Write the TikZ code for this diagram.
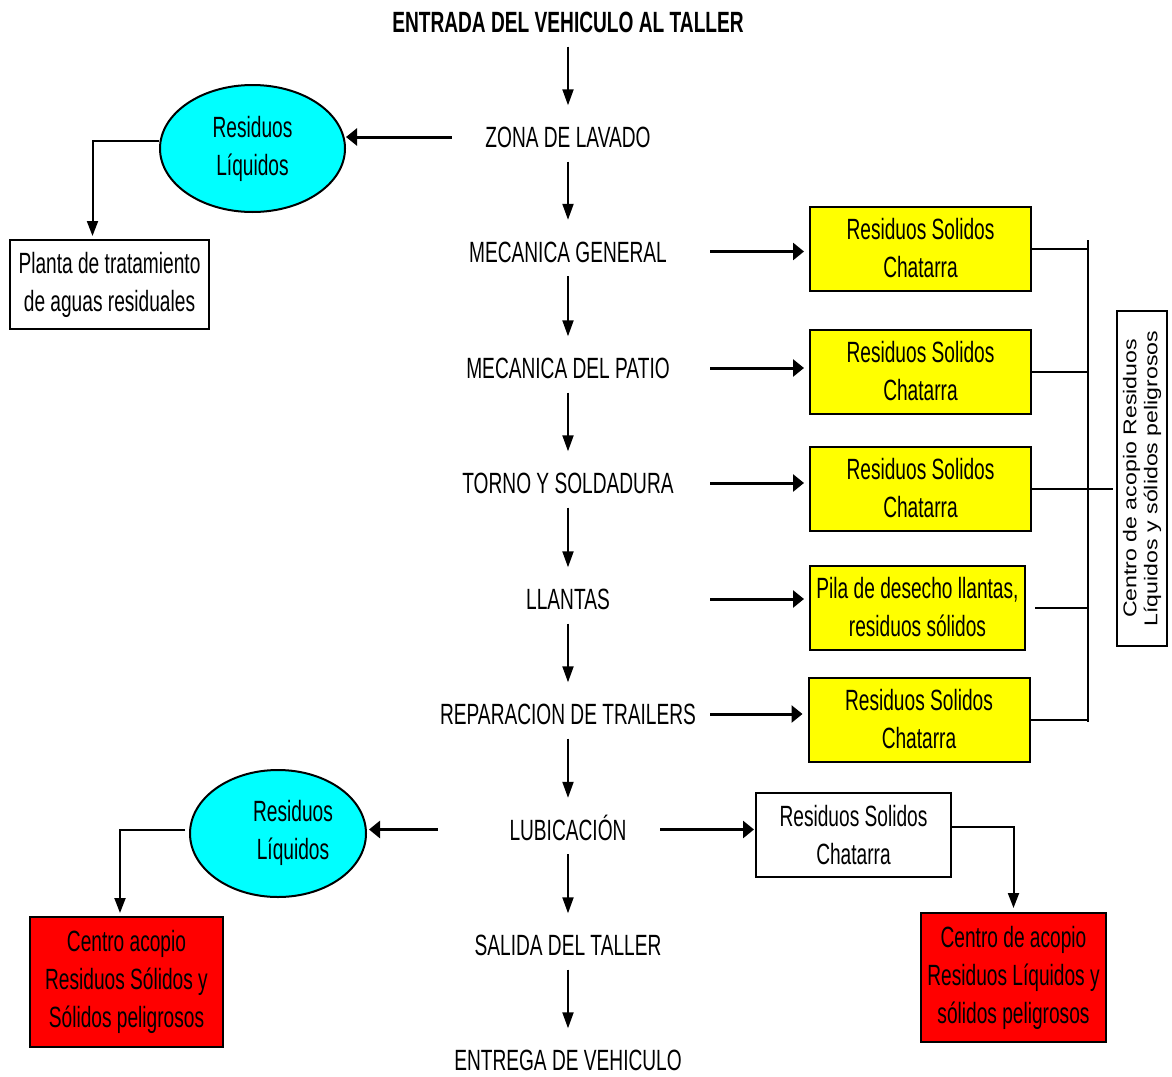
\documentclass[tikz,border=0pt]{standalone}
\usepackage{fontspec}
\setmainfont{Liberation Sans}[FakeStretch=0.653]
\newfontfamily\vertfont{Liberation Sans}[FakeStretch=1.25]
\usetikzlibrary{arrows.meta,shapes.geometric}
\definecolor{aqua}{RGB}{0,255,255}
\definecolor{amarillo}{RGB}{255,255,0}
\definecolor{rojo}{RGB}{255,0,0}

\begin{document}
\begin{tikzpicture}[x=1pt,y=-1pt,
  every node/.style={font=\fontsize{29.3}{38}\selectfont, align=center, inner sep=0pt},
  paso/.style={text height=21pt, text depth=0pt, minimum width=284pt},
  caja/.style={draw, line width=2pt, minimum width=#1},
  caja/.default=221pt,
  solido/.style={caja, fill=amarillo, minimum height=84pt},
  liquido/.style={ellipse, draw, line width=2pt, fill=aqua, minimum height=127pt},
  acopio/.style={caja=#1, fill=rojo, minimum height=129pt},
  varr/.style={line width=2pt, -{Triangle[length=16pt,width=11pt]}, shorten <=14pt, shorten >=21pt},
  vlin/.style={line width=2pt, -{Triangle[length=15pt,width=11pt]}, shorten >=3pt},
  harr/.style={line width=3pt, -{Triangle[length=11pt,width=17pt]}},
  linea/.style={line width=2pt}]
\useasboundingbox (0,0) rectangle (1172,1076);

% pasos del taller
\node[text height=21pt, text depth=0pt, font=\fontsize{29.3}{38}\selectfont\bfseries] (entrada) at (568,22) {ENTRADA DEL VEHICULO AL TALLER};
\node[paso] (zona) at (568,137) {ZONA DE LAVADO};
\node[paso] (mecgen) at (568,251.5) {MECANICA GENERAL};
\node[paso] (mecpat) at (568,368) {MECANICA DEL PATIO};
\node[paso] (torno) at (568,483) {TORNO Y SOLDADURA};
\node[paso] (llantas) at (568,599) {LLANTAS};
\node[paso] (trailer) at (568,714) {REPARACION DE TRAILERS};
\node[paso] (lubic) at (568,829.5) {LUBICACIÓN};
\node[paso] (salida) at (568,945) {SALIDA DEL TALLER};
\node[paso] (entrega) at (568,1060) {ENTREGA DE VEHICULO};
\foreach \aa/\bb in {entrada/zona, zona/mecgen, mecgen/mecpat, mecpat/torno, torno/llantas,
  llantas/trailer, trailer/lubic, lubic/salida, salida/entrega}
  {\draw[varr] (\aa) -- (\bb);}

% residuos solidos
\coordinate (busTop) at (1088,240);
\coordinate (busBot) at (1088,722);
\draw[linea] (busTop) -- (busBot);
\node[draw, line width=1.5pt, rotate=90, minimum width=335pt, minimum height=50pt,
  font=\vertfont\fontsize{18.5}{21}\selectfont] (centro) at (1142,478.5)
  {Centro de acopio Residuos\\Líquidos y sólidos peligrosos};
\foreach \nm/\st/\xx/\yy in {sol1/mecgen/920.5/248.5, sol2/mecpat/920.5/371.5, sol3/torno/920.5/488.5, sol5/trailer/919/719.5} {
  \node[solido] (\nm) at (\xx,\yy) {Residuos Solidos\\Chatarra};
  \draw[harr, shorten >=5pt] (\st.east) -- (\st.east -| \nm.west);
}
\node[solido, caja=215pt] (sol4) at (917.5,607.5) {Pila de desecho llantas,\\residuos sólidos};
\draw[harr, shorten >=5pt] (llantas.east) -- (llantas.east -| sol4.west);
\draw[linea] (sol1.east) -- (sol1.east -| busTop);
\draw[linea] (sol2.east) -- (sol2.east -| busTop);
\draw[linea, shorten >=3pt] (sol3.east) -- (sol3.east -| centro.north);
\draw[linea, shorten <=9pt] (sol4.east) -- (sol4.east -| busTop);
\draw[linea] (sol5.east) -- (sol5.east -| busTop);

% residuos liquidos del lavado
\node[liquido, minimum width=185pt] (liq1) at (252.5,148.5) {Residuos\\Líquidos};
\node[caja=199pt, minimum height=89pt] (planta) at (109.5,284.5) {Planta de tratamiento\\de aguas residuales};
\draw[harr, shorten <=-26pt] (zona.west) -- (zona.west -| liq1.east);
\draw[vlin] ([yshift=8pt]liq1.west) -| ([xshift=-17pt]planta.north);

% lubicacion
\node[liquido, minimum width=176pt] (liq2) at (278,833.5) {};
\node (liq2txt) at (293,833) {Residuos\\Líquidos};
\node[acopio=193pt, minimum height=130pt] (acopio1) at (126.5,982) {Centro acopio\\Residuos Sólidos y\\Sólidos peligrosos};
\draw[harr, shorten <=-12pt, shorten >=2pt] (lubic.west) -- (lubic.west -| liq2.east);
\draw[vlin, shorten <=4pt] ([yshift=4pt]liq2.west) -| ([xshift=-6.5pt]acopio1.north);
\node[caja=195pt, minimum height=84pt] (chat) at (853.5,835) {Residuos Solidos\\Chatarra};
\node[acopio=185pt] (acopio2) at (1013.5,977.5) {Centro de acopio\\Residuos Líquidos y\\sólidos peligrosos};
\draw[harr, shorten <=-50pt, shorten >=1pt] (lubic.east) -- (lubic.east -| chat.west);
\draw[vlin, shorten >=4pt] ([yshift=8pt]chat.east) -| (acopio2.north);
\end{tikzpicture}
\end{document}
